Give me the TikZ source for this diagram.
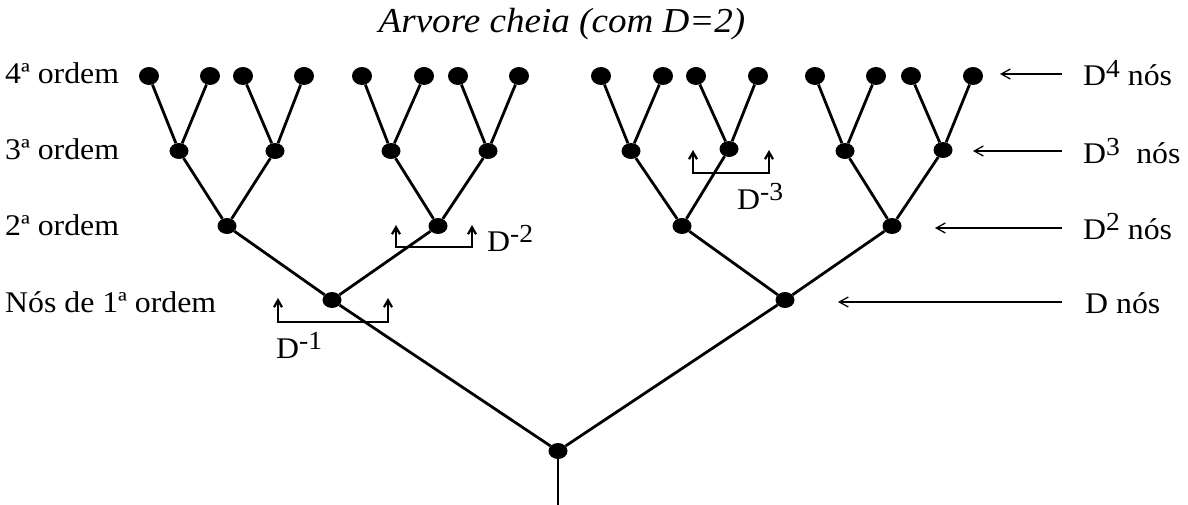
\documentclass[tikz,border=0pt]{standalone}
\usepackage{fontspec}
\setmainfont{Liberation Serif}[FakeStretch=1.06]
\usetikzlibrary{shapes.geometric,arrows.meta}
\newcommand{\supx}[1]{\raisebox{0.27em}{\fontsize{26}{26}\selectfont #1}}
\begin{document}
\begin{tikzpicture}[x=1pt,y=-1pt,
  dot/.style={ellipse,fill=black,inner sep=0pt,minimum width=19pt,minimum height=16pt},
  bigdot/.style={dot,minimum width=20pt,minimum height=18pt},
  edge/.style={line width=2.8pt},
  lbl/.style={font=\fontsize{30}{30}\selectfont,inner sep=0pt},
  brk/.style={line width=2.2pt,{Straight Barb[length=7pt,width=8pt]}-{Straight Barb[length=7pt,width=8pt]}},
  rarrow/.style={line width=1.3pt,-{Straight Barb[length=9pt,width=10pt]}}]
\useasboundingbox (0,0) rectangle (1188,505);
% title
\node[lbl,font=\fontsize{35}{35}\selectfont\itshape,anchor=base] (title) at (562,33) {Arvore cheia (com D=2)};
% nodes
\node[dot] (r) at (558,451) {};
\node[dot] (a) at (332,300) {};
\node[dot] (b) at (785,300) {};
\node[dot] (aa) at (227,226) {};
\node[dot] (ab) at (438,226) {};
\node[dot] (ba) at (682,226) {};
\node[dot] (bb) at (892,226) {};
\foreach \n/\x/\y in {aaa/179/151,aab/275/151,aba/391/151,abb/488/151,baa/631/151,bab/729/149,bba/845/151,bbb/943/150}
  \node[dot] (\n) at (\x,\y) {};
\foreach \n/\x in {aaaa/149,aaab/210,aaba/243,aabb/304,abaa/362,abab/424,abba/458,abbb/519,baaa/601,baab/663,baba/696,babb/758,bbaa/815,bbab/876,bbba/911,bbbb/973}
  \node[bigdot] (\n) at (\x,76) {};
% edges
\coordinate (stem) at (558,505);
\draw[edge] (r) -- (stem);
\draw[edge] (r) -- (a);
\draw[edge] (r) -- (b);
\foreach \p in {a,b}{
  \draw[edge] (\p) -- (\p a);
  \draw[edge] (\p) -- (\p b);}
\foreach \p in {aa,ab,ba,bb}{
  \draw[edge] (\p) -- (\p a);
  \draw[edge] (\p) -- (\p b);}
\foreach \p in {aaa,aab,aba,abb,baa,bab,bba,bbb}{
  \draw[edge] (\p) -- (\p a);
  \draw[edge] (\p) -- (\p b);}
% left labels
\node[lbl,anchor=base west] (l4) at (5,84) {4ª ordem};
\node[lbl,anchor=base west] (l3) at (5,160) {3ª ordem};
\node[lbl,anchor=base west] (l2) at (5,235) {2ª ordem};
\node[lbl,anchor=base west] (l1) at (5,312) {Nós de 1ª ordem};
% right labels
\node[lbl,anchor=base west] (t4) at (1083,86) {D\supx{4} nós};
\node[lbl,anchor=base west] (t3) at (1083,164) {D\supx{3}\hspace{0.28em} nós};
\node[lbl,anchor=base west] (t2) at (1083,239) {D\supx{2} nós};
\node[lbl,anchor=base west] (t1) at (1085,313) {D nós};
\coordinate (s4) at (1062,74); \coordinate (e4) at (1000,74);
\coordinate (s3) at (1062,151); \coordinate (e3) at (973,151);
\coordinate (s2) at (1062,228); \coordinate (e2) at (935,228);
\coordinate (s1) at (1062,302); \coordinate (e1) at (838,302);
\draw[rarrow] (s4) -- (e4);
\draw[rarrow] (s3) -- (e3);
\draw[rarrow] (s2) -- (e2);
\draw[rarrow] (s1) -- (e1);
% brackets
\coordinate (b1l) at (278,298); \coordinate (b1r) at (388,298);
\draw[brk] (b1l) -- (278,322) -- (388,322) -- (b1r);
\node[lbl,anchor=base west] (d1) at (276,358) {D\supx{-1}};
\coordinate (b2l) at (396,225); \coordinate (b2r) at (472,225);
\draw[brk] (b2l) -- (396,247) -- (472,247) -- (b2r);
\node[lbl,anchor=base west] (d2) at (487,251) {D\supx{-2}};
\coordinate (b3l) at (693,150); \coordinate (b3r) at (769,150);
\draw[brk] (b3l) -- (693,173) -- (769,173) -- (b3r);
\node[lbl,anchor=base west] (d3) at (737,209) {D\supx{-3}};
\end{tikzpicture}
\end{document}
